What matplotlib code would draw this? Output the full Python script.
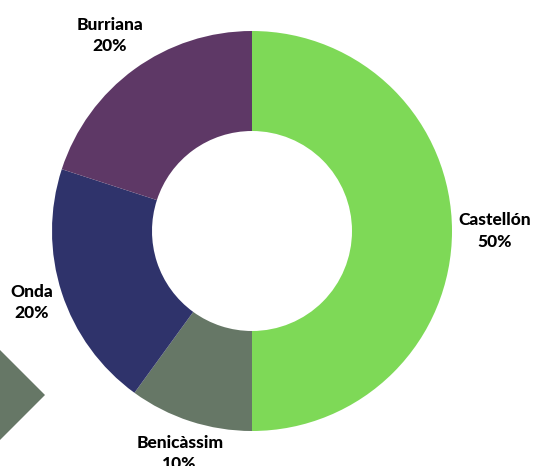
import numpy as np
import matplotlib.pyplot as plt
from matplotlib.patches import Polygon

# Reparto por municipio
municipios = ["Castellón", "Benicàssim", "Onda", "Burriana"]
porcentajes = [50, 10, 20, 20]
colores = ["#7ED957", "#667766", "#2F336B", "#5E3866"]

W, H = 535, 466
fig = plt.figure(figsize=(W / 100, H / 100), dpi=100)
ax = fig.add_axes([0, 0, 1, 1])

cx, cy, r = 252, H - 231, 200
wedges, _ = ax.pie(porcentajes, colors=colores, startangle=90, counterclock=False,
                   radius=r, center=(cx, cy), frame=True,
                   wedgeprops=dict(width=r / 2, linewidth=0))
ax.set_xlim(0, W)
ax.set_ylim(0, H)
ax.set_aspect("equal")
ax.axis("off")

# Etiquetas centradas fuera del anillo (distancia relativa al radio)
distancias = [1.215, 1.17, 1.16, 1.21]
for w, nombre, p, f in zip(wedges, municipios, porcentajes, distancias):
    ang = np.deg2rad((w.theta1 + w.theta2) / 2)
    d = r * f
    ax.text(cx + d * np.cos(ang), cy + d * np.sin(ang), f"{nombre}\n{p}%",
            ha="center", va="center", fontsize=12.5, fontweight="black",
            family="Lato", color="black", linespacing=1.4)

# Rombo decorativo en la esquina
rombo = Polygon([(45, H - 395), (0, H - 350), (-45, H - 395), (0, H - 440)],
                closed=True, facecolor="#667766", edgecolor="none")
ax.add_patch(rombo)

fig.savefig("out.png", dpi=100)
